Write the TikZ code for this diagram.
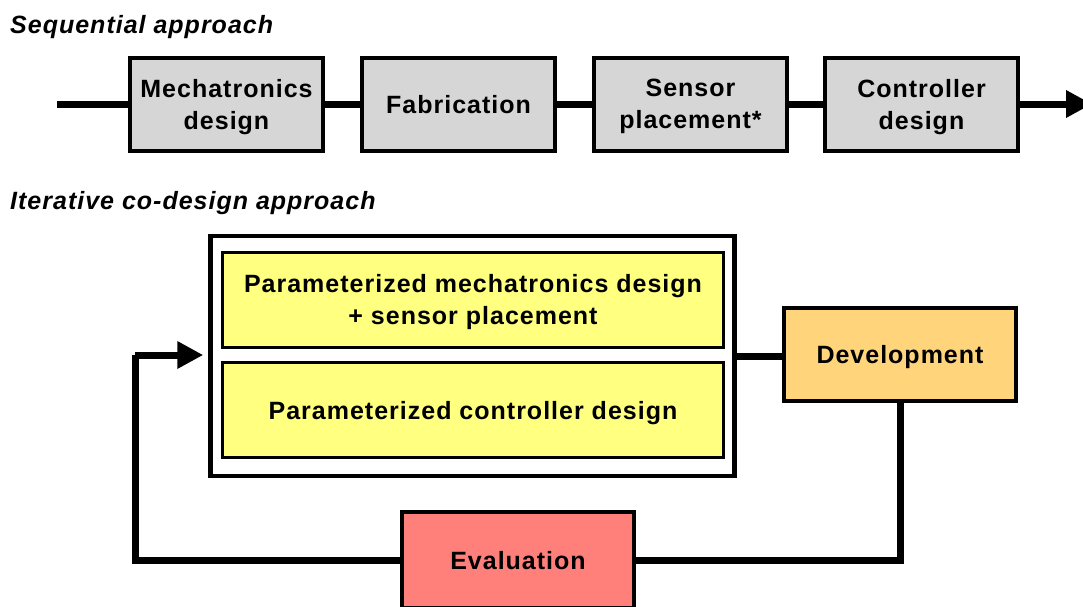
\documentclass[tikz,border=0pt]{standalone}
\usepackage{fontspec}
\setmainfont{Liberation Sans}[LetterSpace=4]
\usetikzlibrary{arrows.meta}
\definecolor{boxgray}{RGB}{214,214,214}
\definecolor{boxyellow}{RGB}{255,255,128}
\definecolor{boxorange}{RGB}{255,212,122}
\definecolor{boxred}{RGB}{255,128,122}
\tikzset{
  stage/.style={draw, line width=4pt, align=center, inner sep=0pt, text depth=0pt,
    font=\fontsize{25}{32}\selectfont\bfseries},
  seqbox/.style={stage, fill=boxgray, minimum width=193pt, minimum height=93pt},
  inner/.style={stage, line width=3pt, fill=boxyellow, minimum width=501pt, minimum height=95pt},
  heading/.style={anchor=base west, inner sep=0pt,
    font=\fontsize{25}{30}\selectfont\bfseries\itshape},
  link/.style={line width=7pt},
  head/.style={-{Triangle[length=26pt,width=26pt]}}
}
\begin{document}
\begin{tikzpicture}[x=1pt, y=-1pt]
\clip (0,0) rectangle (1083,606);
\fill[white] (0,0) rectangle (1083,606);

% sequential chain
\node[heading] (t1) at (10,33) {Sequential approach};
\node[seqbox] (m) at (226.5,104) {Mechatronics\\design};
\node[seqbox] (f) at (458.5,104) {Fabrication};
\node[seqbox] (s) at (690.5,104) {Sensor\\placement*};
\node[seqbox] (c) at (921.5,104) {Controller\\design};
\coordinate (sin) at (57,104);
\coordinate (sout) at (1092,104);
\draw[link] (sin) -- (m.west);
\draw[link] (m.east) -- (f.west);
\draw[link] (f.east) -- (s.west);
\draw[link] (s.east) -- (c.west);
\draw[link, head] (c.east) -- (sout);

% iterative loop
\node[heading] (t2) at (10,209) {Iterative co-design approach};
\node[draw, line width=4.5pt, minimum width=524pt, minimum height=240pt, inner sep=0pt]
  (outer) at (472.5,356) {};
\node[inner] (pa) at (473,299.5) {Parameterized mechatronics design\\+ sensor placement};
\node[inner] (pb) at (473,410) {Parameterized controller design};
\node[stage, fill=boxorange, minimum width=232pt, minimum height=93pt] (dev) at (900,354.5) {Development};
\node[stage, fill=boxred, minimum width=232pt, minimum height=96pt] (eval) at (518,560) {Evaluation};
\coordinate (back) at (135,355);

\draw[link] (outer.east) -- (outer.east -| dev.west);
\draw[link] (dev.south) |- (eval.east);
\draw[link] (eval.west) -| (back);
\draw[link, head, shorten >=5pt] (back) -- (back -| outer.west);
\end{tikzpicture}
\end{document}
